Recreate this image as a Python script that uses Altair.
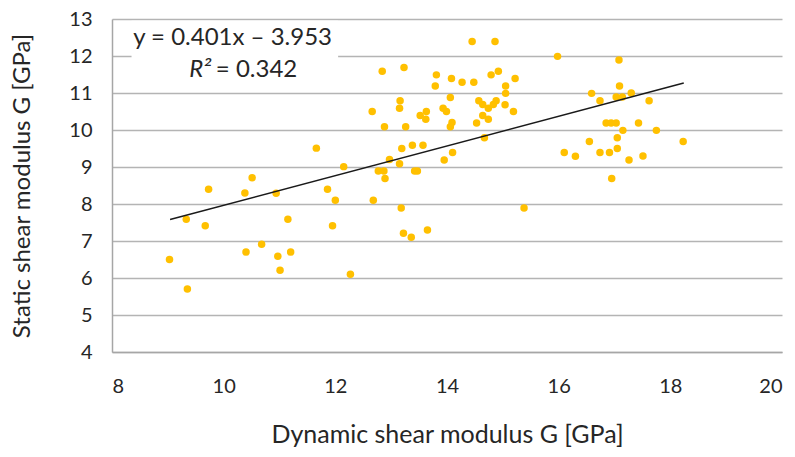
import altair as alt
import pandas as pd

# Data
dyn_G = [
    9.73, 10.38, 10.51, 10.94, 11.86, 12.00, 9.33, 9.67, 11.15, 11.95,
    9.03, 10.68, 10.40, 10.97, 11.20, 11.01, 9.35, 12.27, 11.66, 12.15,
    14.45, 14.86, 15.98, 12.84, 13.23, 13.81, 13.79, 14.08, 14.27, 14.48,
    14.79, 14.92, 15.22, 15.05, 15.05, 13.16, 13.15, 12.66, 12.88, 13.26,
    13.52, 13.63, 13.62, 14.06, 13.93, 13.99, 14.09, 14.06, 14.57, 14.64,
    14.74, 14.83, 14.88, 15.04, 15.19, 14.64, 14.74, 14.53, 14.67, 13.19,
    13.38, 13.57, 14.10, 13.95, 12.97, 13.15, 12.77, 12.87, 12.89, 13.42,
    13.47, 16.10, 16.30, 12.68, 13.18, 15.38, 13.22, 13.36, 13.65,
    17.08, 17.09, 16.59, 16.74, 17.03, 17.14, 17.30, 17.62, 16.85, 16.94,
    17.03, 17.43, 17.15, 17.75, 18.23, 16.55, 17.05, 16.74, 16.91, 17.05,
    17.26, 17.51, 16.95,
]
static_G = [
    8.40, 8.30, 8.71, 8.29, 8.40, 8.10, 7.59, 7.41, 7.59, 7.41,
    6.50, 6.91, 6.70, 6.59, 6.70, 6.21, 5.70, 6.10, 9.51, 9.01,
    12.39, 12.39, 11.99, 11.59, 11.69, 11.49, 11.19, 11.39, 11.29, 11.29,
    11.49, 11.59, 11.39, 11.19, 10.99, 10.79, 10.59, 10.50, 10.09, 10.09,
    10.39, 10.50, 10.29, 10.88, 10.59, 10.50, 10.20, 10.09, 10.79, 10.69,
    10.59, 10.69, 10.79, 10.68, 10.50, 10.39, 10.29, 10.19, 9.79, 9.50,
    9.59, 9.59, 9.39, 9.19, 9.20, 9.09, 8.89, 8.89, 8.69, 8.89,
    8.89, 9.39, 9.29, 8.10, 7.89, 7.89, 7.21, 7.10, 7.30,
    11.89, 11.19, 10.99, 10.79, 10.89, 10.89, 11.00, 10.79, 10.19, 10.19,
    10.19, 10.19, 9.99, 9.99, 9.69, 9.69, 9.79, 9.39, 9.39, 9.50,
    9.19, 9.30, 8.69,
]

# Trend line end points
trend_x = [9.04, 18.24]
trend_y = [7.58, 11.27]

# Equation label
eq_text = ["y = 0.401x \u2013 3.953"]
r2_label = ["R\u00b2"]
r2_value = ["= 0.342"]

x_ticks = [8, 10, 12, 14, 16, 18, 20]
y_ticks = [4, 5, 6, 7, 8, 9, 10, 11, 12, 13]

FONT = "Lato"
TXT = "#262626"

pts = pd.DataFrame({"x": dyn_G, "y": static_G})
trend = pd.DataFrame({"x": trend_x, "y": trend_y})

xscale = alt.Scale(domain=[8, 20], nice=False, zero=False)
yscale = alt.Scale(domain=[4, 13], nice=False, zero=False)

xaxis = alt.Axis(
    title="Dynamic shear modulus G [GPa]",
    values=x_ticks,
    format="d",
    labelOverlap=False,
    grid=False,
    ticks=False,
    domainColor="#A6A6A6",
    domainWidth=1.5,
    labelFontSize=20,
    labelPadding=24,
    labelColor=TXT,
    labelFont=FONT,
    titleFont=FONT,
    titleFontSize=25,
    titleFontWeight="normal",
    titleColor=TXT,
    titlePadding=26,
)
yaxis = alt.Axis(
    title="Static shear modulus G [GPa]",
    values=y_ticks,
    format="d",
    labelOverlap=False,
    grid=True,
    gridColor="#B4B4B4",
    gridWidth=1.5,
    ticks=False,
    domainColor="#A6A6A6",
    domainWidth=1.5,
    labelFontSize=20,
    labelPadding=20,
    labelColor=TXT,
    labelFont=FONT,
    titleFont=FONT,
    titleFontSize=24,
    titleFontWeight="normal",
    titleColor=TXT,
    titlePadding=34,
)

X = alt.X("x:Q", scale=xscale, axis=xaxis)
Y = alt.Y("y:Q", scale=yscale, axis=yaxis)

box = alt.Chart(pd.DataFrame({"x": [8.35], "x2": [12.05], "y": [11.6], "y2": [12.95]})).mark_rect(
    color="white"
).encode(x=X, x2="x2:Q", y=Y, y2="y2:Q")

points = alt.Chart(pts).mark_circle(size=56, color="#FFC000", opacity=1).encode(x=X, y=Y)

line = alt.Chart(trend).mark_line(color="#1a1a1a", strokeWidth=1.5).encode(x=X, y=Y)

eq = alt.Chart(pd.DataFrame({"x": [10.16], "y": [12.5], "t": eq_text})).mark_text(
    font=FONT, fontSize=24, color=TXT, align="center", baseline="middle"
).encode(x=X, y=Y, text="t:N")

r2a = alt.Chart(pd.DataFrame({"x": [9.78], "y": [11.62], "t": r2_label})).mark_text(
    font=FONT, fontSize=24, fontStyle="italic", color=TXT, align="right", baseline="middle"
).encode(x=X, y=Y, text="t:N")

r2b = alt.Chart(pd.DataFrame({"x": [9.86], "y": [11.62], "t": r2_value})).mark_text(
    font=FONT, fontSize=24, color=TXT, align="left", baseline="middle"
).encode(x=X, y=Y, text="t:N")

chart = (
    alt.layer(box, points, line, eq, r2a, r2b)
    .properties(
        width=670,
        height=333,
        autosize=alt.AutoSizeParams(type="none"),
        padding={"left": 112, "top": 19, "right": 13, "bottom": 105},
        background="white",
    )
    .configure_view(stroke=None)
)

chart.save("out.html", embed_options={"renderer": "svg", "actions": False})
